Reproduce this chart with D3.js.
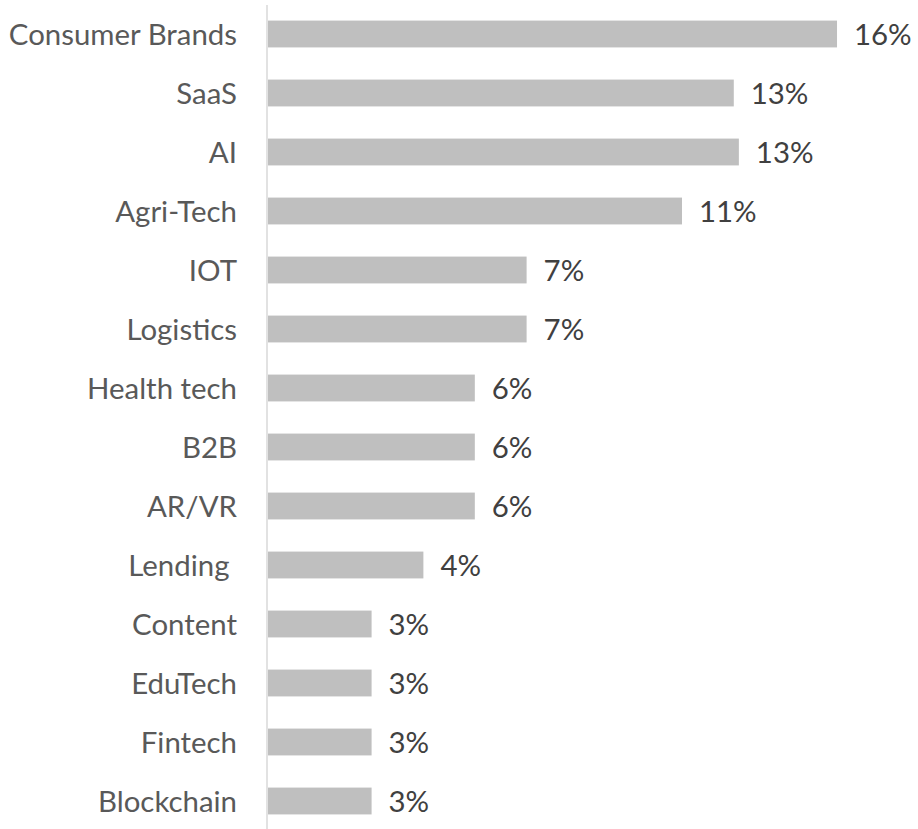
<!DOCTYPE html>
<html><head><meta charset="utf-8">
<script src="https://cdn.jsdelivr.net/npm/d3@7"></script>
<style>
  html, body { margin: 0; padding: 0; background: #fff; }
  svg text { font-family: Lato, "Open Sans", sans-serif; font-size: 29.4px; white-space: pre; }
</style>
</head>
<body>
<svg id="chart" width="918" height="829"></svg>
<script>
// Sector share of startups (percent); labels show the rounded value.
const categories = ["Consumer Brands", "SaaS", "AI", "Agri-Tech", "IOT", "Logistics",
  "Health tech", "B2B", "AR/VR", "Lending ", "Content", "EduTech", "Fintech", "Blockchain"];
const shares = [15.71, 12.86, 13.0, 11.43, 7.14, 7.14, 5.71, 5.71, 5.71, 4.29, 2.86, 2.86, 2.86, 2.86];

const width = 918, height = 829;
const left = 268;

const svg = d3.select("#chart");

const x = d3.scaleLinear().domain([0, 16]).range([left, left + 16 * 36.22]);
const y = d3.scaleBand()
  .domain(categories)
  .range([4.5, 4.5 + 59 * categories.length])
  .paddingInner(0.545)
  .paddingOuter(0.2725);

const rows = categories.map((c, i) => ({ cat: c, v: shares[i] }));

// bars
svg.append("g").selectAll("rect").data(rows).join("rect")
  .attr("x", x(0))
  .attr("y", d => y(d.cat))
  .attr("width", d => x(d.v) - x(0))
  .attr("height", y.bandwidth())
  .attr("fill", "#bfbfbf");

// vertical category axis line
svg.append("line")
  .attr("x1", x(0) - 1).attr("x2", x(0) - 1)
  .attr("y1", 5).attr("y2", height)
  .attr("stroke", "#d9d9d9").attr("stroke-width", 1.5);

// category labels
svg.append("g").selectAll("text").data(rows).join("text")
  .attr("x", 237)
  .attr("y", d => y(d.cat) + y.bandwidth() / 2)
  .attr("dy", "0.36em")
  .attr("text-anchor", "end")
  .attr("fill", "#595959")
  .text(d => d.cat);

// value labels
const fmt = v => Math.round(v) + "%";
svg.append("g").selectAll("text").data(rows).join("text")
  .attr("x", d => x(d.v) + 17)
  .attr("y", d => y(d.cat) + y.bandwidth() / 2)
  .attr("dy", "0.36em")
  .attr("fill", "#404040")
  .text(d => fmt(d.v));
</script>
</body></html>
